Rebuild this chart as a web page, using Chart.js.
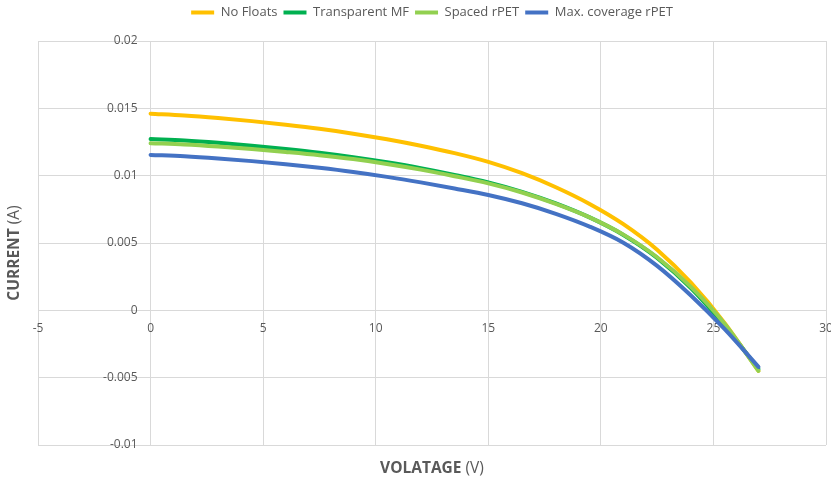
<!DOCTYPE html>
<html>
<head>
<meta charset="utf-8">
<script src="https://cdn.jsdelivr.net/npm/chart.js@4/dist/chart.umd.min.js"></script>
<style>
  html, body { margin: 0; padding: 0; background: #ffffff; }
  #wrap { width: 831px; height: 482px; }
</style>
</head>
<body>
<div id="wrap"><canvas id="iv" width="831" height="482"></canvas></div>
<script>
// I-V curves of the panel under the different float configurations
const voltage       = [0, 1.5, 3, 4.5, 6, 7.5, 9, 10.5, 12, 13.5, 15, 16.5, 18, 19.5, 21, 22.5, 24, 25.5, 27];
const noFloats      = [0.01460, 0.01447, 0.01428, 0.01405, 0.01378, 0.01348, 0.01312, 0.01270, 0.01222, 0.01167, 0.01102, 0.01018, 0.00914, 0.00790, 0.00640, 0.00450, 0.00205, -0.00095, -0.00450];
const transparentMF = [0.01272, 0.01261, 0.01244, 0.01223, 0.01198, 0.01170, 0.01137, 0.01099, 0.01056, 0.01006, 0.00950, 0.00880, 0.00794, 0.00690, 0.00560, 0.00390, 0.00165, -0.00115, -0.00435];
const spacedRPET    = [0.01241, 0.01232, 0.01217, 0.01198, 0.01176, 0.01152, 0.01123, 0.01087, 0.01045, 0.00996, 0.00943, 0.00875, 0.00790, 0.00690, 0.00562, 0.00394, 0.00174, -0.00101, -0.00450];
const maxCoverage   = [0.01154, 0.01144, 0.01128, 0.01108, 0.01085, 0.01058, 0.01027, 0.00991, 0.00950, 0.00905, 0.00857, 0.00795, 0.00717, 0.00622, 0.00502, 0.00330, 0.00110, -0.00140, -0.00420];

const seriesNames = ['No Floats', 'Transparent MF', 'Spaced rPET', 'Max. coverage rPET'];
const xTickValues = [-5, 0, 5, 10, 15, 20, 25, 30];
const yTickValues = [-0.01, -0.005, 0, 0.005, 0.01, 0.015, 0.02];
const xTitle = ['VOLATAGE', '(V)'];
const yTitle = ['CURRENT', '(A)'];

const TEXT = '#595959';
const GRID = '#d9d9d9';
const FONT = "'Open Sans', 'Liberation Sans', sans-serif";

const points = ys => voltage.map((v, i) => ({ x: v, y: ys[i] }));

function series(label, ys, color, order) {
  return {
    label,
    data: points(ys),
    borderColor: color,
    backgroundColor: color,
    borderWidth: 4,
    borderCapStyle: 'round',
    borderJoinStyle: 'round',
    pointRadius: 0,
    pointHoverRadius: 0,
    showLine: true,
    fill: false,
    cubicInterpolationMode: 'monotone',
    order
  };
}

// Leaves some room between the legend row and the plot
const legendGap = {
  id: 'legendGap',
  beforeLayout(chart, args, opts) {
    const lg = chart.legend;
    if (lg && !lg.__gap) {
      const fit = lg.fit;
      lg.fit = function () { fit.call(this); this.height += opts.gap || 0; };
      lg.__gap = true;
    }
  }
};

// Axis titles: bold quantity name followed by the unit in regular weight
const axisTitles = {
  id: 'axisTitles',
  afterDraw(chart) {
    const { ctx, chartArea: a } = chart;
    const size = 15.5;
    const bold = `bold ${size}px ${FONT}`;
    const reg = `${size}px ${FONT}`;
    function drawPair(parts, cx, cy, rot) {
      ctx.save();
      ctx.translate(cx, cy);
      ctx.rotate(rot);
      ctx.fillStyle = TEXT;
      ctx.textBaseline = 'middle';
      ctx.textAlign = 'left';
      ctx.font = bold;
      const first = parts[0] + ' ';
      const w1 = ctx.measureText(first).width;
      ctx.font = reg;
      const w2 = ctx.measureText(parts[1]).width;
      const x = -(w1 + w2) / 2;
      ctx.font = bold;
      ctx.fillText(first, x, 0);
      ctx.font = reg;
      ctx.fillText(parts[1], x + w1, 0);
      ctx.restore();
    }
    drawPair(xTitle, (a.left + a.right) / 2, 469, 0);
    drawPair(yTitle, 15, (a.top + a.bottom) / 2 + 10, -Math.PI / 2);
  }
};

const tickFont = { family: FONT, size: 12 };

new Chart(document.getElementById('iv'), {
  type: 'scatter',
  data: {
    datasets: [
      series(seriesNames[0], noFloats, '#FFC000', 4),
      series(seriesNames[1], transparentMF, '#00B050', 3),
      series(seriesNames[2], spacedRPET, '#92D050', 2),
      series(seriesNames[3], maxCoverage, '#4472C4', 1)
    ]
  },
  options: {
    responsive: false,
    devicePixelRatio: 1,
    animation: false,
    layout: { padding: { left: 38, right: 5, top: 0, bottom: 37 } },
    plugins: {
      legendGap: { gap: 12 },
      tooltip: { enabled: false },
      legend: {
        position: 'top',
        labels: {
          boxWidth: 23,
          boxHeight: 4,
          padding: 6,
          color: TEXT,
          font: { family: FONT, size: 13 },
          // thin line samples: filled strip only, no outline
          generateLabels: chart =>
            Chart.defaults.plugins.legend.labels.generateLabels(chart)
              .map(item => Object.assign(item, { lineWidth: 0 })),
          sort: (a, b) => a.datasetIndex - b.datasetIndex
        }
      }
    },
    scales: {
      x: {
        type: 'linear',
        min: -5,
        max: 30,
        position: { y: 0 },
        afterBuildTicks: s => { s.ticks = xTickValues.map(v => ({ value: v })); },
        afterFit: s => { s.height = 0; s.paddingLeft = 0; s.paddingRight = 0; },
        grid: { color: GRID, lineWidth: 1, drawTicks: false },
        border: { display: false },
        ticks: { padding: 11, color: TEXT, font: tickFont, maxRotation: 0 }
      },
      y: {
        type: 'linear',
        min: -0.01,
        max: 0.02,
        // the value labels sit just left of the zero-volt line
        position: { x: -0.58 },
        afterBuildTicks: s => { s.ticks = yTickValues.map(v => ({ value: v })); },
        afterFit: s => { s.width = 0; s.paddingTop = 0; s.paddingBottom = 0; },
        grid: { color: GRID, lineWidth: 1, drawTicks: false },
        border: { display: false },
        ticks: {
          color: TEXT,
          font: tickFont,
          callback: v => String(+Number(v).toFixed(3))
        }
      }
    }
  },
  plugins: [legendGap, axisTitles]
});
</script>
</body>
</html>
